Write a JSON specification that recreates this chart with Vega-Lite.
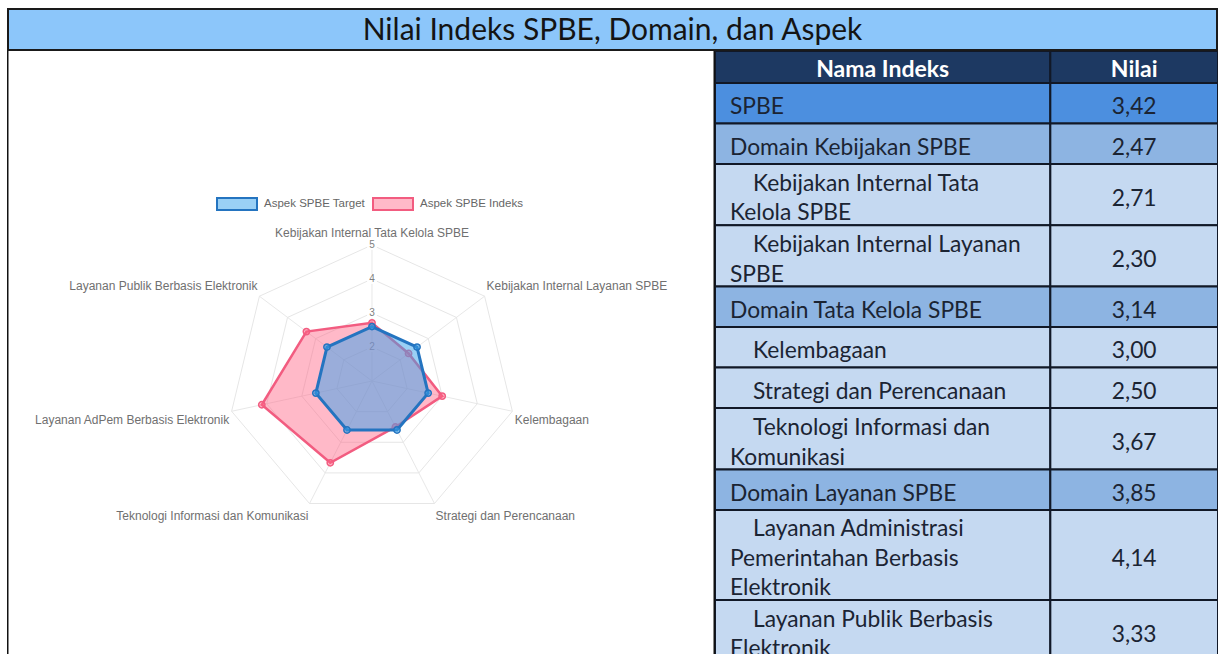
{
  "$schema": "https://vega.github.io/schema/vega-lite/v6.json",
  "padding": {"left": 7, "top": 8, "right": 0, "bottom": 0},
  "background": "white",
  "spacing": 0,
  "bounds": "flush",
  "config": {
    "view": {"stroke": null}
  },
  "datasets": {
    "judul": [{"judul": "Nilai Indeks SPBE, Domain, dan Aspek"}],
    "aspek": [
      {"aspek": "Kebijakan Internal Tata Kelola SPBE", "Aspek SPBE Target": 2.6, "Aspek SPBE Indeks": 2.71},
      {"aspek": "Kebijakan Internal Layanan SPBE", "Aspek SPBE Target": 2.6, "Aspek SPBE Indeks": 2.30},
      {"aspek": "Kelembagaan", "Aspek SPBE Target": 2.6, "Aspek SPBE Indeks": 3.00},
      {"aspek": "Strategi dan Perencanaan", "Aspek SPBE Target": 2.6, "Aspek SPBE Indeks": 2.50},
      {"aspek": "Teknologi Informasi dan Komunikasi", "Aspek SPBE Target": 2.6, "Aspek SPBE Indeks": 3.67},
      {"aspek": "Layanan AdPem Berbasis Elektronik", "Aspek SPBE Target": 2.6, "Aspek SPBE Indeks": 4.14},
      {"aspek": "Layanan Publik Berbasis Elektronik", "Aspek SPBE Target": 2.6, "Aspek SPBE Indeks": 3.33}
    ],
    "tabel": [
      {"tingkat": "header", "nama": "Nama Indeks", "nilai": "Nilai"},
      {"tingkat": "spbe", "nama": "SPBE", "nilai": "3,42"},
      {"tingkat": "domain", "nama": "Domain Kebijakan SPBE", "nilai": "2,47"},
      {"tingkat": "aspek", "nama": "Kebijakan Internal Tata\nKelola SPBE", "nilai": "2,71"},
      {"tingkat": "aspek", "nama": "Kebijakan Internal Layanan\nSPBE", "nilai": "2,30"},
      {"tingkat": "domain", "nama": "Domain Tata Kelola SPBE", "nilai": "3,14"},
      {"tingkat": "aspek", "nama": "Kelembagaan", "nilai": "3,00"},
      {"tingkat": "aspek", "nama": "Strategi dan Perencanaan", "nilai": "2,50"},
      {"tingkat": "aspek", "nama": "Teknologi Informasi dan\nKomunikasi", "nilai": "3,67"},
      {"tingkat": "domain", "nama": "Domain Layanan SPBE", "nilai": "3,85"},
      {"tingkat": "aspek", "nama": "Layanan Administrasi\nPemerintahan Berbasis\nElektronik", "nilai": "4,14"},
      {"tingkat": "aspek", "nama": "Layanan Publik Berbasis\nElektronik", "nilai": "3,33"}
    ]
  },
  "vconcat": [
    {
      "width": 1211,
      "height": 43,
      "data": {"name": "judul"},
      "layer": [
        {"mark": {"type": "rect", "fill": "#8CC6FA", "stroke": "#1a1a1a", "strokeWidth": 4, "clip": true}, "encoding": {}},
        {"mark": {"type": "text", "font": "Lato", "fontSize": 30, "color": "#141414", "dy": 1, "clip": true}, "encoding": {"text": {"field": "judul", "type": "nominal"}}}
      ]
    },
    {
      "spacing": 0,
      "bounds": "flush",
      "resolve": {"scale": {"fill": "independent", "stroke": "independent"}, "legend": {"fill": "independent", "stroke": "independent"}},
      "hconcat": [
        {
          "width": 708,
          "height": 603,
          "data": {"name": "aspek"},
          "transform": [
            {"window": [{"op": "row_number", "as": "no"}]},
            {"calculate": "datum.no - 1", "as": "k"},
            {"calculate": "PI/2 - datum.k*2*PI/7", "as": "sudut"},
            {"fold": ["Aspek SPBE Target", "Aspek SPBE Indeks"], "as": ["seri", "nilai"]},
            {"calculate": "(datum.nilai - 1)*cos(datum.sudut)", "as": "px"},
            {"calculate": "(datum.nilai - 1)*sin(datum.sudut)", "as": "py"},
            {"calculate": "0", "as": "pusat"},
            {"calculate": "4*cos(datum.sudut)", "as": "ox"},
            {"calculate": "4*sin(datum.sudut)", "as": "oy"},
            {"calculate": "4.07*cos(datum.sudut)", "as": "lx"},
            {"calculate": "4.15*sin(datum.sudut) + (sin(datum.sudut) > 0 ? 0.21 : -0.23)", "as": "ly"}
          ],
          "layer": [
            {
              "transform": [{"filter": "datum.k == 0 && datum.seri == 'Aspek SPBE Target'"}],
              "mark": {"type": "rect", "fill": "white", "stroke": "#111111", "strokeWidth": 3, "strokeDash": [0, 708, 603, 708, 603], "clip": true},
              "encoding": {
                "x": {"datum": -10.139, "type": "quantitative", "scale": {"domain": [-10.139, 9.528], "nice": false, "zero": false}, "axis": null},
                "x2": {"datum": 9.528},
                "y": {"datum": -8.029, "type": "quantitative", "scale": {"domain": [-8.029, 9.706], "nice": false, "zero": false}, "axis": null},
                "y2": {"datum": 9.706}
              }
            },
            {
              "transform": [{"filter": "datum.seri == 'Aspek SPBE Target'"}],
              "mark": {"type": "rule", "color": "#e8e8e8", "strokeWidth": 1},
              "encoding": {
                "x": {"field": "pusat", "type": "quantitative", "axis": null},
                "y": {"field": "pusat", "type": "quantitative", "axis": null},
                "x2": {"field": "ox"},
                "y2": {"field": "oy"}
              }
            },
            {
              "transform": [
                {"filter": "datum.seri == 'Aspek SPBE Target'"},
                {"calculate": "[1, 2, 3, 4]", "as": "lv"},
                {"flatten": ["lv"]},
                {"calculate": "datum.lv*cos(datum.sudut)", "as": "gx"},
                {"calculate": "datum.lv*sin(datum.sudut)", "as": "gy"}
              ],
              "mark": {"type": "line", "interpolate": "linear-closed", "color": "#e6e6e6", "strokeWidth": 1},
              "encoding": {
                "x": {"field": "gx", "type": "quantitative", "axis": null},
                "y": {"field": "gy", "type": "quantitative", "axis": null},
                "detail": {"field": "lv", "type": "nominal"},
                "order": {"field": "k", "type": "quantitative"}
              }
            },
            {
              "transform": [
                {"filter": "datum.k == 0 && datum.seri == 'Aspek SPBE Target'"},
                {"calculate": "[2, 3, 4, 5]", "as": "skala"},
                {"flatten": ["skala"]},
                {"calculate": "datum.skala - 1", "as": "ty"}
              ],
              "mark": {"type": "square", "color": "white", "opacity": 0.85, "size": 100},
              "encoding": {"x": {"field": "pusat", "type": "quantitative", "axis": null}, "y": {"field": "ty", "type": "quantitative", "axis": null}}
            },
            {
              "transform": [
                {"filter": "datum.k == 0 && datum.seri == 'Aspek SPBE Target'"},
                {"calculate": "[2, 3, 4, 5]", "as": "skala"},
                {"flatten": ["skala"]},
                {"calculate": "datum.skala - 1", "as": "ty"}
              ],
              "mark": {"type": "text", "font": "Liberation Sans", "fontSize": 10, "color": "#808080"},
              "encoding": {"x": {"field": "pusat", "type": "quantitative", "axis": null}, "y": {"field": "ty", "type": "quantitative", "axis": null}, "text": {"field": "skala", "type": "nominal"}}
            },
            {
              "transform": [{"filter": "datum.seri == 'Aspek SPBE Indeks'"}],
              "mark": {"type": "line", "interpolate": "linear-closed", "strokeWidth": 2.5},
              "encoding": {
                "x": {"field": "px", "type": "quantitative", "axis": null},
                "y": {"field": "py", "type": "quantitative", "axis": null},
                "order": {"field": "k", "type": "quantitative"},
                "stroke": {"field": "seri", "type": "nominal", "scale": {"domain": ["Aspek SPBE Target", "Aspek SPBE Indeks"], "range": ["#2474c0", "#f25c80"]}, "legend": {"title": null, "orient": "none", "legendX": 209, "legendY": 132, "direction": "horizontal", "symbolType": "M-1,-0.3H1V0.3H-1Z", "symbolSize": 1600, "symbolStrokeWidth": 2, "labelFont": "Liberation Sans", "labelFontSize": 11.5, "labelColor": "#666666", "labelOffset": 6, "columnPadding": 4, "padding": 0}},
                "fill": {"field": "seri", "type": "nominal", "scale": {"domain": ["Aspek SPBE Target", "Aspek SPBE Indeks"], "range": ["rgba(54,162,235,0.5)", "rgba(255,99,132,0.45)"]}, "legend": {"title": null, "orient": "none", "legendX": 209, "legendY": 132, "direction": "horizontal", "symbolType": "M-1,-0.3H1V0.3H-1Z", "symbolSize": 1600, "symbolStrokeWidth": 2, "labelFont": "Liberation Sans", "labelFontSize": 11.5, "labelColor": "#666666", "labelOffset": 6, "columnPadding": 4, "padding": 0}}
              }
            },
            {
              "transform": [{"filter": "datum.seri == 'Aspek SPBE Indeks'"}],
              "mark": {"type": "point", "filled": true, "size": 40, "strokeWidth": 1.5, "opacity": 1},
              "encoding": {
                "x": {"field": "px", "type": "quantitative", "axis": null},
                "y": {"field": "py", "type": "quantitative", "axis": null},
                "stroke": {"field": "seri", "type": "nominal"},
                "fill": {"field": "seri", "type": "nominal"}
              }
            },
            {
              "transform": [{"filter": "datum.seri == 'Aspek SPBE Target'"}],
              "mark": {"type": "line", "interpolate": "linear-closed", "strokeWidth": 3},
              "encoding": {
                "x": {"field": "px", "type": "quantitative", "axis": null},
                "y": {"field": "py", "type": "quantitative", "axis": null},
                "order": {"field": "k", "type": "quantitative"},
                "stroke": {"field": "seri", "type": "nominal"},
                "fill": {"field": "seri", "type": "nominal"}
              }
            },
            {
              "transform": [{"filter": "datum.seri == 'Aspek SPBE Target'"}],
              "mark": {"type": "point", "filled": true, "size": 40, "strokeWidth": 1.5, "opacity": 1},
              "encoding": {
                "x": {"field": "px", "type": "quantitative", "axis": null},
                "y": {"field": "py", "type": "quantitative", "axis": null},
                "stroke": {"field": "seri", "type": "nominal"},
                "fill": {"field": "seri", "type": "nominal"}
              }
            },
            {
              "transform": [{"filter": "datum.seri == 'Aspek SPBE Target' && datum.k == 0"}],
              "mark": {"type": "text", "align": "center", "baseline": "middle", "font": "Liberation Sans", "fontSize": 12, "color": "#707070"},
              "encoding": {"x": {"field": "lx", "type": "quantitative", "axis": null}, "y": {"field": "ly", "type": "quantitative", "axis": null}, "text": {"field": "aspek", "type": "nominal"}}
            },
            {
              "transform": [{"filter": "datum.seri == 'Aspek SPBE Target' && datum.k >= 1 && datum.k <= 3"}],
              "mark": {"type": "text", "align": "left", "baseline": "middle", "font": "Liberation Sans", "fontSize": 12, "color": "#707070"},
              "encoding": {"x": {"field": "lx", "type": "quantitative", "axis": null}, "y": {"field": "ly", "type": "quantitative", "axis": null}, "text": {"field": "aspek", "type": "nominal"}}
            },
            {
              "transform": [{"filter": "datum.seri == 'Aspek SPBE Target' && datum.k >= 4"}],
              "mark": {"type": "text", "align": "right", "baseline": "middle", "font": "Liberation Sans", "fontSize": 12, "color": "#707070"},
              "encoding": {"x": {"field": "lx", "type": "quantitative", "axis": null}, "y": {"field": "ly", "type": "quantitative", "axis": null}, "text": {"field": "aspek", "type": "nominal"}}
            }
          ]
        },
        {
          "width": 503,
          "height": 603,
          "data": {"name": "tabel"},
          "transform": [
            {"calculate": "split(datum.nama, '\\n')", "as": "baris"},
            {"calculate": "length(datum.baris)", "as": "n"},
            {"calculate": "datum.tingkat == 'header' ? 32 : max(40.5, 28.7*datum.n + 3.9)", "as": "tinggi"},
            {"window": [{"op": "sum", "field": "tinggi", "as": "y1"}]},
            {"calculate": "datum.y1 - datum.tinggi", "as": "y0"},
            {"calculate": "(datum.y0 + datum.y1)/2", "as": "ym"},
            {"calculate": "datum.ym - (datum.n - 1)*29.5/2", "as": "yb1"},
            {"calculate": "datum.yb1 + 29.5", "as": "yb2"},
            {"calculate": "datum.baris[0]", "as": "baris1"},
            {"calculate": "slice(datum.baris, 1)", "as": "sisa"}
          ],
          "layer": [
            {
              "mark": {"type": "rect", "stroke": "#111827", "strokeWidth": 2, "clip": true},
              "encoding": {
                "x": {"datum": 0, "type": "quantitative", "scale": {"domain": [0, 3], "nice": false, "zero": false}, "axis": null},
                "x2": {"datum": 2},
                "y": {"field": "y0", "type": "quantitative", "scale": {"domain": [0, 603], "reverse": true, "nice": false, "zero": false}, "axis": null},
                "y2": {"field": "y1"},
                "fill": {"field": "tingkat", "type": "nominal", "scale": {"domain": ["header", "spbe", "domain", "aspek"], "range": ["#1D3962", "#4C8FDF", "#8DB4E2", "#C5D9F1"]}, "legend": null}
              }
            },
            {
              "mark": {"type": "rect", "stroke": "#111827", "strokeWidth": 2, "clip": true},
              "encoding": {
                "x": {"datum": 2, "type": "quantitative", "axis": null},
                "x2": {"datum": 3},
                "y": {"field": "y0", "type": "quantitative", "axis": null},
                "y2": {"field": "y1"},
                "fill": {"field": "tingkat", "type": "nominal", "legend": null}
              }
            },
            {
              "transform": [{"filter": "datum.tingkat == 'spbe' || datum.tingkat == 'domain'"}],
              "mark": {"type": "text", "align": "left", "baseline": "middle", "dx": 15, "dy": 4, "font": "Lato", "fontSize": 22.8, "color": "#1b2433", "clip": true},
              "encoding": {"x": {"datum": 0, "type": "quantitative", "axis": null}, "y": {"field": "yb1", "type": "quantitative", "axis": null}, "text": {"field": "baris1", "type": "nominal"}}
            },
            {
              "transform": [{"filter": "datum.tingkat == 'aspek'"}],
              "mark": {"type": "text", "align": "left", "baseline": "middle", "dx": 38, "dy": 4, "font": "Lato", "fontSize": 22.8, "color": "#1b2433", "clip": true},
              "encoding": {"x": {"datum": 0, "type": "quantitative", "axis": null}, "y": {"field": "yb1", "type": "quantitative", "axis": null}, "text": {"field": "baris1", "type": "nominal"}}
            },
            {
              "transform": [{"filter": "datum.n > 1"}],
              "mark": {"type": "text", "align": "left", "baseline": "middle", "dx": 15, "dy": 4, "font": "Lato", "fontSize": 22.8, "lineHeight": 29.5, "color": "#1b2433", "clip": true},
              "encoding": {"x": {"datum": 0, "type": "quantitative", "axis": null}, "y": {"field": "yb2", "type": "quantitative", "axis": null}, "text": {"field": "sisa", "type": "nominal"}}
            },
            {
              "transform": [{"filter": "datum.tingkat != 'header'"}],
              "mark": {"type": "text", "align": "center", "baseline": "middle", "dy": 4, "font": "Lato", "fontSize": 22.8, "color": "#1b2433", "clip": true},
              "encoding": {"x": {"datum": 2.5, "type": "quantitative", "axis": null}, "y": {"field": "ym", "type": "quantitative", "axis": null}, "text": {"field": "nilai", "type": "nominal"}}
            },
            {
              "transform": [{"filter": "datum.tingkat == 'header'"}],
              "mark": {"type": "text", "align": "center", "baseline": "middle", "dy": 3, "font": "Lato", "fontSize": 23, "fontWeight": "bold", "color": "white", "clip": true},
              "encoding": {"x": {"datum": 1, "type": "quantitative", "axis": null}, "y": {"field": "ym", "type": "quantitative", "axis": null}, "text": {"field": "nama", "type": "nominal"}}
            },
            {
              "transform": [{"filter": "datum.tingkat == 'header'"}],
              "mark": {"type": "text", "align": "center", "baseline": "middle", "dy": 3, "font": "Lato", "fontSize": 23, "fontWeight": "bold", "color": "white", "clip": true},
              "encoding": {"x": {"datum": 2.5, "type": "quantitative", "axis": null}, "y": {"field": "ym", "type": "quantitative", "axis": null}, "text": {"field": "nilai", "type": "nominal"}}
            }
          ]
        }
      ]
    }
  ]
}
